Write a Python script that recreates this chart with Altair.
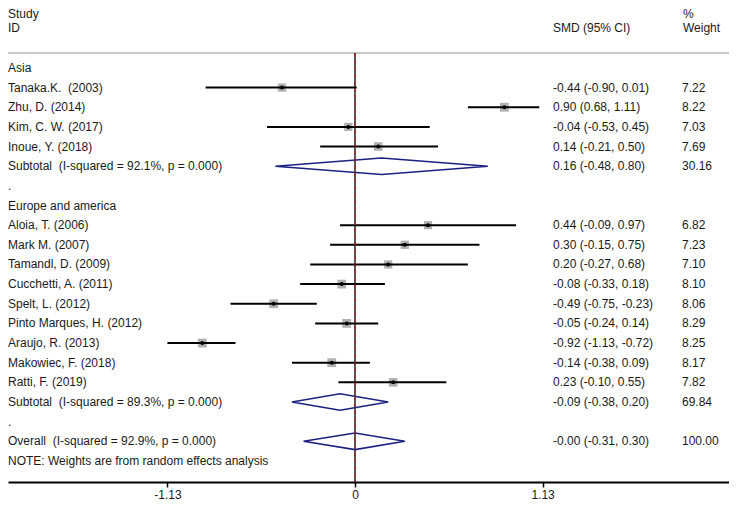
import altair as alt
import pandas as pd

FONT = "Liberation Sans"
TEXT_COLOR = "#1a1a1a"
NAVY = "#1c2080"

# ---------------- data ----------------
group_names = ["Asia", "Europe and america"]

asia_studies = ["Tanaka.K.\u00a0 (2003)", "Zhu, D. (2014)", "Kim, C. W. (2017)", "Inoue, Y. (2018)"]
asia_smd = [-0.44, 0.90, -0.04, 0.14]
asia_lo = [-0.90, 0.68, -0.53, -0.21]
asia_hi = [0.01, 1.11, 0.45, 0.50]
asia_weight = [7.22, 8.22, 7.03, 7.69]

europe_studies = ["Aloia, T. (2006)", "Mark M. (2007)", "Tamandl, D. (2009)",
                  "Cucchetti, A. (2011)", "Spelt, L. (2012)", "Pinto Marques, H. (2012)",
                  "Araujo, R. (2013)", "Makowiec, F. (2018)", "Ratti, F. (2019)"]
europe_smd = [0.44, 0.30, 0.20, -0.08, -0.49, -0.05, -0.92, -0.14, 0.23]
europe_lo = [-0.09, -0.15, -0.27, -0.33, -0.75, -0.24, -1.13, -0.38, -0.10]
europe_hi = [0.97, 0.75, 0.68, 0.18, -0.23, 0.14, -0.72, 0.09, 0.55]
europe_weight = [6.82, 7.23, 7.10, 8.10, 8.06, 8.29, 8.25, 8.17, 7.82]

subtotal_smd = [0.16, -0.09]
subtotal_lo = [-0.48, -0.38]
subtotal_hi = [0.80, 0.20]
subtotal_weight = [30.16, 69.84]
subtotal_i2 = [92.1, 89.3]
subtotal_p = [0.000, 0.000]

overall_smd = -0.0
overall_lo = -0.31
overall_hi = 0.30
overall_weight = 100.00
overall_i2 = 92.9
overall_p = 0.000

axis_ticks = [-1.13, 0, 1.13]
header_left = ["Study", "ID"]
header_ci = "SMD (95% CI)"
header_weight = ["%", "Weight"]
note_text = "NOTE: Weights are from random effects analysis"

# ---------------- layout (rows) ----------------
groups = [
    (asia_studies, asia_smd, asia_lo, asia_hi, asia_weight),
    (europe_studies, europe_smd, europe_lo, europe_hi, europe_weight),
]

left_rows, right_rows, study_rows, diamond_rows = [], [], [], []


def fmt(v):
    return f"{v:.2f}"


r = 0
for g, (names, est, lo, hi, wt) in enumerate(groups):
    left_rows.append({"row": r, "text": group_names[g]})
    r += 1
    for n, e, l, h, w in zip(names, est, lo, hi, wt):
        left_rows.append({"row": r, "text": n})
        right_rows.append({"row": r, "ci": f"{fmt(e)} ({fmt(l)}, {fmt(h)})", "w": fmt(w)})
        study_rows.append({"row": r, "est": e, "lo": l, "hi": h, "weight": w})
        r += 1
    left_rows.append({"row": r, "text": f"Subtotal\u00a0 (I-squared = {subtotal_i2[g]:.1f}%, p = {subtotal_p[g]:.3f})"})
    right_rows.append({"row": r,
                       "ci": f"{fmt(subtotal_smd[g])} ({fmt(subtotal_lo[g])}, {fmt(subtotal_hi[g])})",
                       "w": fmt(subtotal_weight[g])})
    diamond_rows.append({"id": g, "row": r, "est": subtotal_smd[g],
                         "lo": subtotal_lo[g], "hi": subtotal_hi[g]})
    r += 1
    left_rows.append({"row": r, "text": "."})
    r += 1

overall_row = r
left_rows.append({"row": r, "text": f"Overall\u00a0 (I-squared = {overall_i2:.1f}%, p = {overall_p:.3f})"})
right_rows.append({"row": r, "ci": f"{fmt(overall_smd)} ({fmt(overall_lo)}, {fmt(overall_hi)})",
                   "w": fmt(overall_weight)})
diamond_rows.append({"id": 2, "row": r, "est": overall_smd, "lo": overall_lo, "hi": overall_hi})
r += 1
note_row = r
left_rows.append({"row": r, "text": note_text})

HALF = 0.42
diamond_pts = []
for d in diamond_rows:
    pts = [(d["lo"], d["row"]), (d["est"], d["row"] - HALF), (d["hi"], d["row"]),
           (d["est"], d["row"] + HALF), (d["lo"], d["row"])]
    for k, (x, y) in enumerate(pts):
        diamond_pts.append({"id": d["id"], "k": k, "x": x, "row": y})

left_df = pd.DataFrame(left_rows)
right_df = pd.DataFrame(right_rows)
study_df = pd.DataFrame(study_rows)
diamond_df = pd.DataFrame(diamond_pts)

W, H = 721, 474
y_top, y_bottom = -3.05, note_row + 1.07
sep_row = -0.76
study_row, id_row = -2.75, -2.04

xs = alt.Scale(domain=[-347 / 166, 374 / 166], nice=False, zero=False)
ys = alt.Scale(domain=[y_top, y_bottom], reverse=True, nice=False, zero=False)

x_axis = alt.Axis(values=axis_ticks, title=None, grid=False,
                  labelExpr="datum.value == 0 ? '0' : (datum.value < 0 ? '-' + format(-datum.value, '.2f') : format(datum.value, '.2f'))",
                  domainColor="black", domainWidth=1.8, tickColor="black",
                  tickWidth=1.5, tickSize=5, labelPadding=2, labelFont=FONT,
                  labelFontSize=12, labelColor=TEXT_COLOR, labelFlush=False)


def X(f):
    return alt.X(f, scale=xs, axis=x_axis)


def Y(f="row:Q"):
    return alt.Y(f, scale=ys, axis=None)


base_line = pd.DataFrame({"x0": [0.0], "r0": [sep_row], "r1": [y_bottom]})

separator = alt.Chart(base_line).mark_rule(color="#c8c8c8", strokeWidth=1.8).encode(
    x=alt.value(0), x2=alt.value(W), y=Y("r0:Q"))

null_line = alt.Chart(base_line).mark_rule(color="black", strokeWidth=1.3).encode(
    x=X("x0:Q"), y=Y("r0:Q"), y2="r1:Q")

overall_df = pd.DataFrame({"est": [overall_smd], "r0": [sep_row], "r1": [y_bottom]})
overall_line = alt.Chart(overall_df).mark_rule(color="#b02020", strokeWidth=1.1,
                                               strokeDash=[4, 3]).encode(
    x=X("est:Q"), y=Y("r0:Q"), y2="r1:Q")

squares = alt.Chart(study_df).mark_square(color="#a8a8a8", opacity=0.9).encode(
    x=X("est:Q"), y=Y(),
    size=alt.Size("weight:Q", scale=alt.Scale(domain=[0, 10], range=[0, 95]), legend=None))

ci = alt.Chart(study_df).mark_rule(color="black", strokeWidth=2).encode(
    x=X("lo:Q"), x2="hi:Q", y=Y())

dots = alt.Chart(study_df).mark_point(filled=True, color="black", size=16, opacity=1).encode(
    x=X("est:Q"), y=Y())

diamonds = alt.Chart(diamond_df).mark_line(color=NAVY, strokeWidth=1.6).encode(
    x=X("x:Q"), y=Y(), detail="id:N", order="k:Q")

txt = dict(font=FONT, fontSize=12, color=TEXT_COLOR, align="left", baseline="middle")

left_text = alt.Chart(left_df).mark_text(**txt).encode(
    x=alt.value(0), y=Y(), text="text:N")
ci_text = alt.Chart(right_df).mark_text(**txt).encode(
    x=alt.value(545), y=Y(), text="ci:N")
w_text = alt.Chart(right_df).mark_text(**txt).encode(
    x=alt.value(674), y=Y(), text="w:N")

hdr_df = pd.DataFrame({"row": [study_row, id_row], "left": header_left, "wt": header_weight})
hdr_left = alt.Chart(hdr_df).mark_text(**txt).encode(x=alt.value(0), y=Y(), text="left:N")
hdr_w = alt.Chart(hdr_df).mark_text(**txt).encode(x=alt.value(675), y=Y(), text="wt:N")
hdr_ci = alt.Chart(pd.DataFrame({"row": [id_row], "t": [header_ci]})).mark_text(**txt).encode(
    x=alt.value(545), y=Y(), text="t:N")

chart = alt.layer(
    separator, null_line, squares, ci, dots, diamonds, overall_line,
    left_text, ci_text, w_text, hdr_left, hdr_w, hdr_ci,
).properties(
    width=W, height=H,
    autosize=alt.AutoSizeParams(type="none"),
    padding={"left": 0, "top": 0, "right": 0, "bottom": 22},
    background="white",
).configure_view(stroke=None)

chart.save("out.html", embed_options={"renderer": "svg", "actions": False})
